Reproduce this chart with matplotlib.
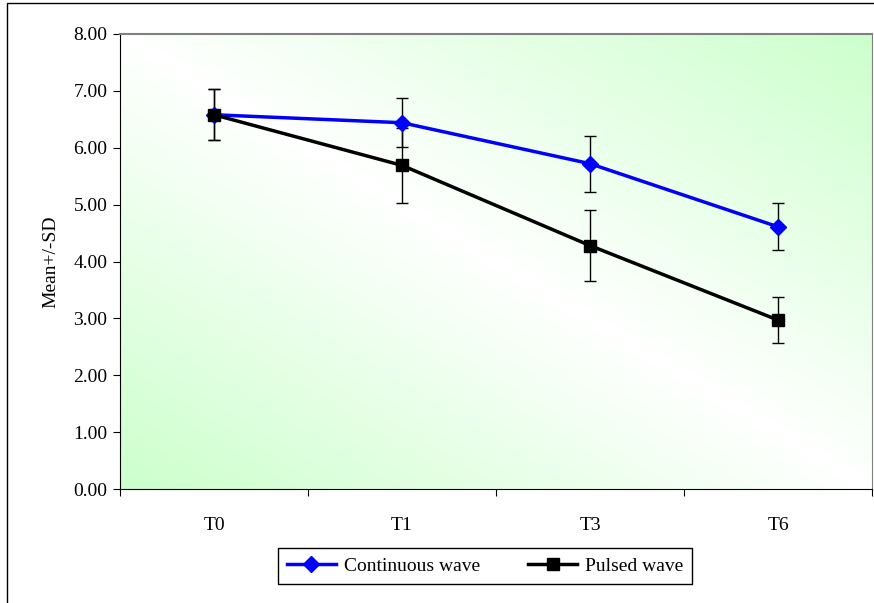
import numpy as np
import matplotlib.pyplot as plt
from matplotlib.patches import Rectangle

plt.rcParams["font.family"] = ["Liberation Serif", "DejaVu Serif"]

# data
times = ["T0", "T1", "T3", "T6"]
cw_mean = [6.58, 6.44, 5.72, 4.61]
cw_sd = [0.45, 0.43, 0.49, 0.41]
pw_mean = [6.58, 5.69, 4.28, 2.97]
pw_sd = [0.45, 0.66, 0.62, 0.40]

fig = plt.figure(figsize=(8.74, 6.03), dpi=100)
fig.patch.set_facecolor("white")
ax = fig.add_axes([120 / 874, 1 - 489 / 603, 752 / 874, 455 / 603])

# gradient background: white on the diagonal, green towards the corners
u, v = np.meshgrid(np.linspace(0, 1, 300), np.linspace(0, 1, 300))
d = np.abs(u + v - 1)
green = np.array([204, 255, 204]) / 255.0
img = 1 - d[..., None] * (1 - green)
ax.imshow(img, extent=[-0.5, 3.5, 0, 8], origin="lower", aspect="auto",
          zorder=0, interpolation="bilinear")

x = np.arange(len(times))
ax.errorbar(x, cw_mean, yerr=cw_sd, fmt="none", ecolor="black",
            elinewidth=1, capsize=4, capthick=1, zorder=2)
ax.errorbar(x, pw_mean, yerr=pw_sd, fmt="none", ecolor="black",
            elinewidth=1, capsize=4, capthick=1, zorder=2)
ax.plot(x, cw_mean, color="#0000ff", linewidth=2.5, marker="D",
        markersize=8, label="Continuous wave", zorder=3)
ax.plot(x, pw_mean, color="black", linewidth=2.5, marker="s",
        markersize=9, label="Pulsed wave", zorder=3)

ax.set_xlim(-0.5, 3.5)
ax.set_ylim(0, 8)
ax.set_yticks(np.arange(0, 8.01, 1))
ax.set_yticklabels([f"{t:.2f}" for t in np.arange(0, 8.01, 1)])
ax.set_xticks(np.arange(-0.5, 3.6, 1))
ax.set_xticklabels([])
ax.set_xticks(x, minor=True)
ax.set_xticklabels(times, minor=True)
ax.tick_params(axis="x", which="minor", length=0, pad=20, labelsize=14)
ax.tick_params(axis="x", which="major", direction="out", length=5)
ax.tick_params(axis="y", direction="out", length=5, labelsize=14, pad=4)
ax.set_ylabel("Mean+/-SD", fontsize=14, labelpad=10)

ax.spines["top"].set_color("#808080")
ax.spines["right"].set_color("#808080")
ax.spines["top"].set_linewidth(1.5)

fig.legend(loc="center", bbox_to_anchor=(485 / 874, 1 - 566 / 603), ncol=2,
           fontsize=14, frameon=True, fancybox=False, edgecolor="black",
           framealpha=1, handlelength=2.5, handletextpad=0.4,
           columnspacing=2.5, borderpad=0.45)

fig.patches.append(Rectangle((7 / 874, -0.05), 1.1, 1.05 - 3 / 603,
                             transform=fig.transFigure, fill=False,
                             edgecolor="black", linewidth=1))

fig.savefig("out.png", dpi=100, facecolor="white")
